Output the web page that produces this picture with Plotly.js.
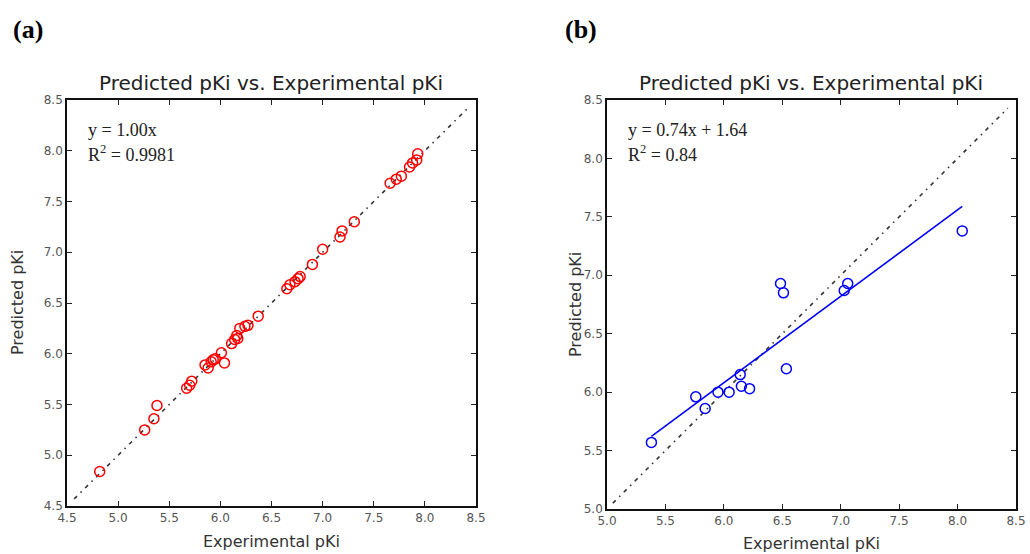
<!DOCTYPE html>
<html>
<head>
<meta charset="utf-8">
<script src="https://cdn.plot.ly/plotly-3.0.1.min.js"></script>
<style>html,body{margin:0;padding:0;background:#fff;}#chart{width:1030px;height:554px;}</style>
</head>
<body>
<div id="chart"></div>
<script>
// Panel (a) data
const expA = [4.82, 5.26, 5.35, 5.38, 5.67, 5.70, 5.72, 5.85, 5.88, 5.91, 5.93, 5.95, 6.01, 6.04, 6.11,
  6.14, 6.17, 6.16, 6.19, 6.24, 6.27, 6.37, 6.65, 6.68, 6.73, 6.76, 6.78, 6.90, 7.00, 7.17, 7.19, 7.31,
  7.66, 7.72, 7.77, 7.85, 7.88, 7.92, 7.93];
const predA = [4.84, 5.25, 5.36, 5.49, 5.66, 5.69, 5.73, 5.89, 5.86, 5.92, 5.94, 5.95, 6.01, 5.91, 6.10,
  6.14, 6.15, 6.18, 6.25, 6.27, 6.28, 6.37, 6.64, 6.68, 6.71, 6.74, 6.76, 6.88, 7.03, 7.15, 7.21, 7.30,
  7.68, 7.72, 7.75, 7.84, 7.88, 7.91, 7.97];
// Panel (b) data
const expB = [5.38, 5.76, 5.84, 5.95, 6.045, 6.14, 6.15, 6.22, 6.535, 6.485, 6.51, 7.03, 7.06, 8.04];
const predB = [5.57, 5.96, 5.86, 6.00, 6.00, 6.15, 6.05, 6.03, 6.20, 6.93, 6.85, 6.87, 6.93, 7.38];
const fitB = {slope: 0.74, intercept: 1.64};
const diagA = [4.57, 8.43];
const diagB = [5.05, 8.43];
const tickVals = [4.5, 5.0, 5.5, 6.0, 6.5, 7.0, 7.5, 8.0, 8.5];
const tickText = ['4.5', '5.0', '5.5', '6.0', '6.5', '7.0', '7.5', '8.0', '8.5'];
const titleText = 'Predicted pKi vs. Experimental pKi';
const xTitle = 'Experimental pKi';
const yTitle = 'Predicted pKi';
const eqA = ['y = 1.00x', 'R<sup>2</sup> = 0.9981'];
const eqB = ['y = 0.74x + 1.64', 'R<sup>2</sup> = 0.84'];

const W = 1030, H = 554;
const fx = p => p / W, fy = p => 1 - p / H;

const bMin = Math.min(...expB), bMax = Math.max(...expB);
const fitX = [bMin, bMax];
const fitY = fitX.map(x => fitB.slope * x + fitB.intercept);

const diagStyle = {color: '#333', width: 1.6, dash: '4px,5px,1.5px,5px'};
const traces = [
  {x: diagA, y: diagA, mode: 'lines', line: diagStyle, xaxis: 'x', yaxis: 'y', hoverinfo: 'skip'},
  {x: expA, y: predA, mode: 'markers', xaxis: 'x', yaxis: 'y',
   marker: {symbol: 'circle-open', size: 10, color: '#ff0000', line: {width: 1.5, color: '#ff0000'}}},
  {x: diagB, y: diagB, mode: 'lines', line: diagStyle, xaxis: 'x2', yaxis: 'y2', hoverinfo: 'skip'},
  {x: fitX, y: fitY, mode: 'lines', line: {color: '#0000ff', width: 1.6}, xaxis: 'x2', yaxis: 'y2'},
  {x: expB, y: predB, mode: 'markers', xaxis: 'x2', yaxis: 'y2',
   marker: {symbol: 'circle-open', size: 10, color: '#0000ff', line: {width: 1.5, color: '#0000ff'}}}
];

const tickFont = {family: 'DejaVu Sans', size: 12, color: '#555'};
function ax(domain, range, opts) {
  return Object.assign({
    domain: domain, range: range, tickvals: tickVals, ticktext: tickText,
    ticks: 'inside', ticklen: 5, tickwidth: 1, tickcolor: '#222',
    showline: true, linecolor: '#111', linewidth: 1.8, mirror: 'allticks',
    showgrid: false, zeroline: false, tickfont: tickFont, fixedrange: true
  }, opts || {});
}

function label(text, x, y, font, extra) {
  return Object.assign({text: text, xref: 'paper', yref: 'paper', x: fx(x), y: fy(y), showarrow: false,
    font: font, xanchor: 'left', yanchor: 'middle'}, extra || {});
}
const titleFont = {family: 'DejaVu Sans', size: 20, color: '#222'};
const axFont = {family: 'DejaVu Sans', size: 16, color: '#333'};
const eqFont = {family: 'Liberation Serif', size: 18, color: '#222'};
const panelFont = {family: 'Liberation Serif', size: 26, color: '#000'};

const layout = {
  width: W, height: H, margin: {l: 0, r: 0, t: 0, b: 0},
  paper_bgcolor: '#fff', plot_bgcolor: '#fff', showlegend: false,
  xaxis: ax([fx(67), fx(476)], [4.5, 8.5], {anchor: 'y'}),
  yaxis: ax([fy(506), fy(100)], [4.5, 8.5], {anchor: 'x'}),
  xaxis2: ax([fx(607), fx(1016)], [5.0, 8.5], {anchor: 'y2'}),
  yaxis2: ax([fy(509), fy(100)], [5.0, 8.5], {anchor: 'x2'}),
  annotations: [
    label(titleText, 271, 83, titleFont, {xanchor: 'center'}),
    label(titleText, 811, 83, titleFont, {xanchor: 'center'}),
    label(xTitle, 271, 541, axFont, {xanchor: 'center'}),
    label(xTitle, 811, 543, axFont, {xanchor: 'center'}),
    label(yTitle, 17, 303, axFont, {xanchor: 'center', textangle: -90}),
    label(yTitle, 575, 305, axFont, {xanchor: 'center', textangle: -90}),
    label('<b>(a)</b>', 11, 30, panelFont),
    label('<b>(b)</b>', 563, 30, panelFont),
    label(eqA[0], 86, 130, eqFont),
    label(eqA[1], 86, 154, eqFont),
    label(eqB[0], 626, 130, eqFont),
    label(eqB[1], 626, 154, eqFont)
  ]
};

Plotly.newPlot('chart', traces, layout, {displayModeBar: false, staticPlot: true});
</script>
</body>
</html>
